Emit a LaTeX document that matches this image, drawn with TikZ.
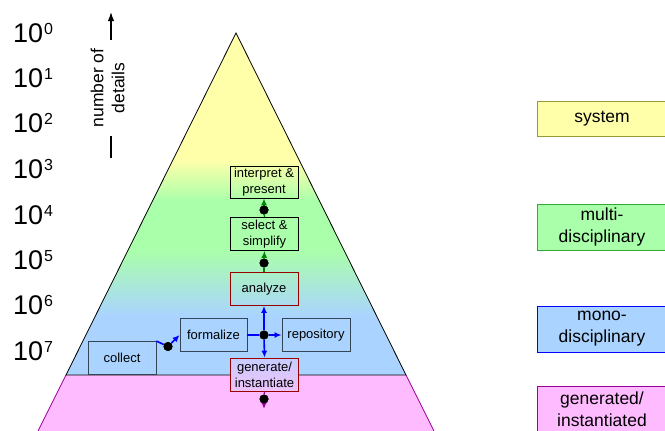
\documentclass[tikz,border=0pt]{standalone}
\usepackage{fontspec}
\setmainfont{Liberation Sans}
\usetikzlibrary{arrows.meta}
\definecolor{cyellow}{HTML}{FFFFAA}
\definecolor{cgreen}{HTML}{AAFFAA}
\definecolor{cblue}{HTML}{AAD4FF}
\definecolor{cpink}{HTML}{FFBBFF}
\definecolor{cpurple}{HTML}{990099}
\definecolor{cred}{HTML}{990000}
\definecolor{cslate}{HTML}{334455}
\definecolor{colive}{HTML}{999933}
\definecolor{cdgreen}{HTML}{33AA33}
\definecolor{carrowgreen}{HTML}{008800}
\definecolor{cgentop}{HTML}{C8CDFF}
\definecolor{cgenbot}{HTML}{EEC2FA}
\newcommand\expnum[1]{{\fontsize{27}{30}\selectfont 10}\hspace{1pt}\raisebox{8.5pt}{\fontsize{16}{16}\selectfont #1}}
\tikzset{
  ibox/.style={draw, rectangle, minimum width=68pt, minimum height=33pt, inner sep=1pt,
    align=center, font=\fontsize{13}{16}\selectfont, line width=0.8pt},
  sbox/.style={draw, rectangle, minimum width=130pt, inner sep=1pt,
    align=center, font=\fontsize{17.5}{22}\selectfont, line width=0.8pt},
  dotnode/.style={circle, fill=black, inner sep=0pt, minimum size=9pt},
  tipa/.style={-{Latex[length=7pt,width=6pt]}},
  gline/.style={carrowgreen, line width=1.3pt},
  bline/.style={blue, line width=1.6pt},
  pline/.style={cpurple, line width=1.3pt},
  expo/.style={anchor=west, inner sep=0pt}
}
\begin{document}
\begin{tikzpicture}[x=1pt,y=-1pt]
\useasboundingbox (0,0) rectangle (665,431);
% pink base region
\fill[cpink] (66,375) -- (406,375) -- (434,431) -- (38,431) -- cycle;
\draw[cpurple, line width=0.8pt] (66,375) -- (38,431);
\draw[cpurple, line width=0.8pt] (406,375) -- (434,431);
% pyramid gradient
\begin{scope}
\clip (236,33) -- (66,375) -- (406,375) -- cycle;
\fill[cyellow] (0,0) rectangle (665,161);
\shade[top color=cyellow, bottom color=cgreen] (0,160) rectangle (665,201);
\fill[cgreen] (0,200) rectangle (665,251);
\shade[top color=cgreen, bottom color=cblue] (0,250) rectangle (665,316);
\fill[cblue] (0,315) rectangle (665,375);
\end{scope}
\draw[line width=0.8pt] (66,375) -- (236,33) -- (406,375) -- cycle;

% exponent labels
\node[expo] (e0) at (13,33) {\expnum{0}};
\node[expo] (e1) at (13,78) {\expnum{1}};
\node[expo] (e2) at (13,123) {\expnum{2}};
\node[expo] (e3) at (13,169) {\expnum{3}};
\node[expo] (e4) at (13,215) {\expnum{4}};
\node[expo] (e5) at (13,260) {\expnum{5}};
\node[expo] (e6) at (13,305) {\expnum{6}};
\node[expo] (e7) at (13,351) {\expnum{7}};

% axis arrow
\coordinate (axbot) at (111,158);
\coordinate (axtop) at (111,12);
\draw[line width=1.3pt, -{Latex[length=9pt,width=6.5pt]}] (axbot) -- (axtop);
\node[rotate=90, fill=white, inner xsep=9pt, inner ysep=1pt, align=center,
  font=\fontsize{17.5}{21}\selectfont] (axlabel) at (107.5,88) {number of\\details};

% process boxes
\node[ibox, minimum height=32pt] (interp) at (264,182) {interpret \&\\present};
\node[ibox] (select) at (264.5,234) {select \&\\simplify};
\node[ibox, draw=cred] (analyze) at (264,289) {analyze};
\node[ibox, draw=cslate, minimum width=67pt] (formalize) at (213.5,335) {formalize};
\node[ibox, draw=cslate] (repository) at (316,335) {repository};
\node[ibox, draw=cslate] (collect) at (122,358) {collect};
\node[ibox, draw=cred, top color=cgentop, bottom color=cgenbot] (generate) at (264.5,374.5) {generate/\\instantiate};

% dots
\node[dotnode] (d1) at (264,210) {};
\node[dotnode] (d2) at (264,263) {};
\node[dotnode] (d3) at (168,346.5) {};
\node[dotnode] (hub) at (264,335) {};
\node[dotnode] (d5) at (264,399) {};
\coordinate (bend) at (264,409);

% connectors
\draw[gline] (select.north) -- (d1);
\draw[gline, tipa] (d1) -- (interp.south);
\draw[gline] (analyze.north) -- (d2);
\draw[gline, tipa] (d2) -- (select.south);
\draw[bline] (collect.north east) -- (d3);
\draw[bline, tipa] (d3) -- (formalize.west);
\draw[bline] (formalize.east) -- (hub);
\draw[bline, tipa] (hub) -- (repository.west);
\draw[bline, tipa] (hub) -- (analyze.south);
\draw[bline, tipa] (hub) -- (generate.north);
\draw[pline] (generate.south) -- (d5);
\draw[pline, tipa] (d5) -- (bend);
\node[dotnode] at (d1) {};
\node[dotnode] at (d2) {};
\node[dotnode] at (d3) {};
\node[dotnode] at (hub) {};
\node[dotnode] at (d5) {};

% right legend boxes
\node[sbox, fill=cyellow, draw=colive, minimum height=35pt] (lsys) at (602,118.5) {system};
\node[sbox, fill=cgreen, draw=cdgreen, minimum height=46pt] (lmulti) at (602,227) {multi-\\disciplinary};
\node[sbox, fill=cblue, draw=blue, minimum height=46pt] (lmono) at (602,329) {mono-\\disciplinary};
\node[sbox, fill=cpink, draw=cpurple, minimum height=46pt] (lgen) at (602,409) {generated/\\instantiated};
\end{tikzpicture}
\end{document}
